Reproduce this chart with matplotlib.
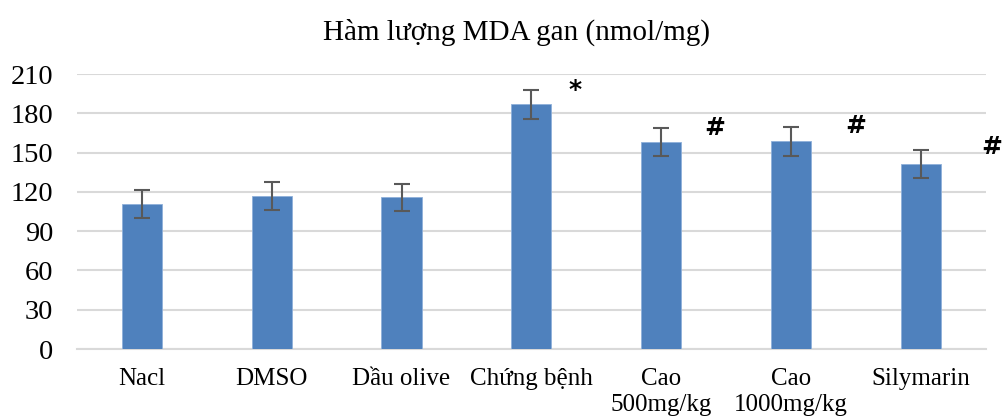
import matplotlib
matplotlib.use("Agg")
import matplotlib.pyplot as plt
import numpy as np

categories = ["Nacl", "DMSO", "Dầu olive", "Chứng bệnh", "Cao\n500mg/kg", "Cao\n1000mg/kg", "Silymarin"]
values = [110.5, 116.8, 115.8, 186.8, 158.0, 158.5, 141.0]
errors = [10.8, 10.8, 10.6, 11.0, 10.8, 10.8, 10.7]
marks = ["", "", "", "*", "#", "#", "#"]
mark_y = [0, 0, 0, 198, 169, 170, 154]
mark_dx = [0, 0, 0, 0.34, 0.41, 0.50, 0.55]
yticks = [0, 30, 60, 90, 120, 150, 180, 210]

plt.rcParams['font.family'] = ['Liberation Serif', 'DejaVu Serif']

fig = plt.figure(figsize=(10.04, 4.16), dpi=100)
ax = fig.add_axes([0.0767, 0.161, 0.905, 0.661])
x = np.arange(len(categories))
ax.bar(x, values, width=0.31, color="#4F81BD", edgecolor="#8FB0DA", linewidth=0.6, zorder=3)
ax.errorbar(x, values, yerr=errors, fmt="none", ecolor="#595959", elinewidth=1.5,
            capsize=6, capthick=1.5, zorder=4)
for i, (m, my, dx) in enumerate(zip(marks, mark_y, mark_dx)):
    if m:
        ax.text(i + dx, my, m, ha="center", va="center", fontsize=18,
                family=['DejaVu Sans'], fontweight='bold', zorder=5)

ax.set_xlim(-0.5, len(categories) - 0.5)
ax.set_ylim(0, 210)
ax.set_yticks(yticks)
ax.set_yticklabels([str(t) for t in yticks], fontsize=20.5)
ax.set_xticks(x)
ax.set_xticklabels(categories, fontsize=18, linespacing=1.2, va="top")
ax.tick_params(axis="both", length=0)
ax.tick_params(axis="x", pad=14)
ax.tick_params(axis="y", pad=17)
ax.grid(axis="y", color="#D9D9D9", linewidth=1.5, zorder=0)
ax.set_axisbelow(True)
for s in ["top", "right", "left"]:
    ax.spines[s].set_visible(False)
ax.spines["bottom"].set_color("#D9D9D9")
ax.spines["bottom"].set_linewidth(1.5)
fig.text(0.514, 0.922, "Hàm lượng MDA gan (nmol/mg)", ha="center", va="center", fontsize=21)
fig.savefig("out.png", dpi=100)
